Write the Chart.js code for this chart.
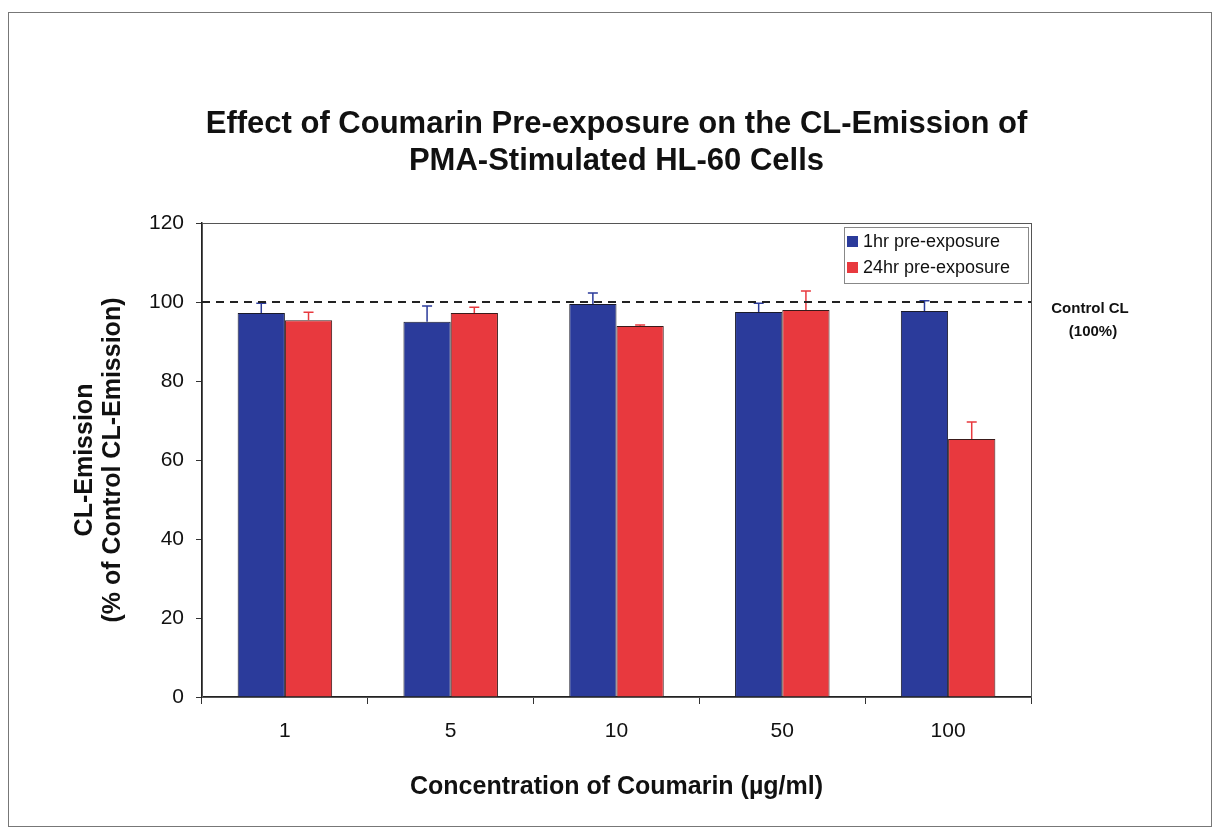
<!DOCTYPE html>
<html><head><meta charset="utf-8">
<script src="https://cdn.jsdelivr.net/npm/chart.js@4"></script>
<style>html,body{margin:0;padding:0;background:#fff}#wrap{width:1214px;height:829px}</style>
</head><body><div id="wrap"><canvas id="c" width="1214" height="829"></canvas></div>
<script>
const categories = ['1', '5', '10', '50', '100'];
const oneHr = [97.2, 95.0, 99.5, 97.5, 97.7];
const oneHrErr = [2.5, 4.0, 2.8, 2.2, 2.6];
const twentyFourHr = [95.4, 97.2, 93.9, 98.0, 65.3];
const twentyFourHrErr = [2.0, 1.5, 0.3, 4.8, 4.3];
const seriesNames = ['1hr pre-exposure', '24hr pre-exposure'];
const controlLevel = 100;
const yTicks = [0, 20, 40, 60, 80, 100, 120];
const titleLines = ['Effect of Coumarin Pre-exposure on the CL-Emission of', 'PMA-Stimulated HL-60 Cells'];

const BLUE = '#2b3b9b', RED = '#e8393e';
const FONT = 'Arial, "Liberation Sans", sans-serif';
const errs = [oneHrErr, twentyFourHrErr];

const decor = {
  id: 'decor',
  afterDatasetsDraw(chart) {
    const ctx = chart.ctx, a = chart.chartArea, y = chart.scales.y;
    ctx.save();
    // title (centred over the plot area)
    ctx.fillStyle = '#111'; ctx.font = 'bold 31px ' + FONT;
    ctx.textAlign = 'center'; ctx.textBaseline = 'middle';
    const cx = (a.left + a.right) / 2;
    titleLines.forEach((t, i) => ctx.fillText(t, cx, 124 + i * 37));
    // plot frame
    ctx.strokeStyle = '#555'; ctx.lineWidth = 1;
    ctx.strokeRect(a.left + 0.5, a.top + 0.5, a.right - a.left, a.bottom - a.top);
    // error bars
    chart.data.datasets.forEach((ds, i) => {
      const meta = chart.getDatasetMeta(i);
      ctx.strokeStyle = ds.backgroundColor; ctx.lineWidth = 1.5;
      meta.data.forEach((bar, j) => {
        const top = y.getPixelForValue(ds.data[j] + errs[i][j]);
        ctx.beginPath();
        ctx.moveTo(bar.x, bar.y); ctx.lineTo(bar.x, top);
        ctx.moveTo(bar.x - 5, top); ctx.lineTo(bar.x + 5, top);
        ctx.stroke();
      });
    });
    // control dashed line
    const cy = y.getPixelForValue(controlLevel);
    ctx.strokeStyle = '#222'; ctx.lineWidth = 2; ctx.setLineDash([8, 6]);
    ctx.beginPath(); ctx.moveTo(a.left, cy); ctx.lineTo(a.right, cy); ctx.stroke();
    ctx.setLineDash([]);
    ctx.fillStyle = '#111'; ctx.font = 'bold 15px ' + FONT; ctx.textAlign = 'center'; ctx.textBaseline = 'middle';
    ctx.fillText('Control CL', 1090, cy + 7);
    ctx.fillText('(100%)', 1093, cy + 30);
    // legend
    const lx = a.right - 187, ly = a.top + 4, lw = 184, lh = 56;
    ctx.fillStyle = '#fff'; ctx.fillRect(lx, ly, lw, lh);
    ctx.strokeStyle = '#888'; ctx.lineWidth = 1; ctx.strokeRect(lx + 0.5, ly + 0.5, lw, lh);
    ctx.font = '18px ' + FONT; ctx.textAlign = 'left';
    chart.data.datasets.forEach((ds, i) => {
      const ry = ly + 15 + i * 26;
      ctx.fillStyle = ds.backgroundColor; ctx.fillRect(lx + 3, ry - 6, 11, 11);
      ctx.fillStyle = '#111'; ctx.fillText(ds.label, lx + 19, ry);
    });
    // page frame
    ctx.strokeStyle = '#777'; ctx.lineWidth = 1;
    ctx.strokeRect(8.5, 12.5, 1203, 814);
    ctx.restore();
  }
};

new Chart(document.getElementById('c'), {
  type: 'bar',
  data: {
    labels: categories,
    datasets: [
      { label: seriesNames[0], data: oneHr, backgroundColor: BLUE, borderColor: '#1a1a2a', borderWidth: 1 },
      { label: seriesNames[1], data: twentyFourHr, backgroundColor: RED, borderColor: '#3a1a1a', borderWidth: 1 }
    ]
  },
  options: {
    responsive: false, animation: false,
    layout: { padding: { left: 0, right: 183, top: 223, bottom: 0 } },
    datasets: { bar: { categoryPercentage: 0.57, barPercentage: 1.0 } },
    plugins: {
      legend: { display: false },
      tooltip: { enabled: false },
      title: { display: false }
    },
    scales: {
      x: {
        afterFit(s) { s.height = 132; },
        grid: { display: true, drawOnChartArea: false, drawTicks: true, tickLength: 7, color: '#333', offset: true },
        border: { display: true, color: '#222', width: 1.5 },
        ticks: { color: '#111', font: { size: 21, family: FONT }, padding: 15 },
        title: { display: true, text: 'Concentration of Coumarin (µg/ml)', color: '#111',
                 font: { size: 25, weight: 'bold', family: FONT, lineHeight: 1.2 }, padding: { top: 0, bottom: 27 } }
      },
      y: {
        min: 0, max: 120,
        afterFit(s) { s.width = 202; },
        afterBuildTicks(s) { s.ticks = yTicks.map(v => ({ value: v })); },
        grid: { display: true, drawOnChartArea: false, drawTicks: true, tickLength: 6, color: '#333' },
        border: { display: true, color: '#222', width: 1.5 },
        ticks: { color: '#111', font: { size: 21, family: FONT }, padding: 12 },
        title: { display: true, text: ['CL-Emission', '(% of Control CL-Emission)'], color: '#111',
                 font: { size: 25, weight: 'bold', family: FONT, lineHeight: 1.12 }, padding: { top: 71, bottom: 0 } }
      }
    }
  },
  plugins: [decor]
});
</script></body></html>
